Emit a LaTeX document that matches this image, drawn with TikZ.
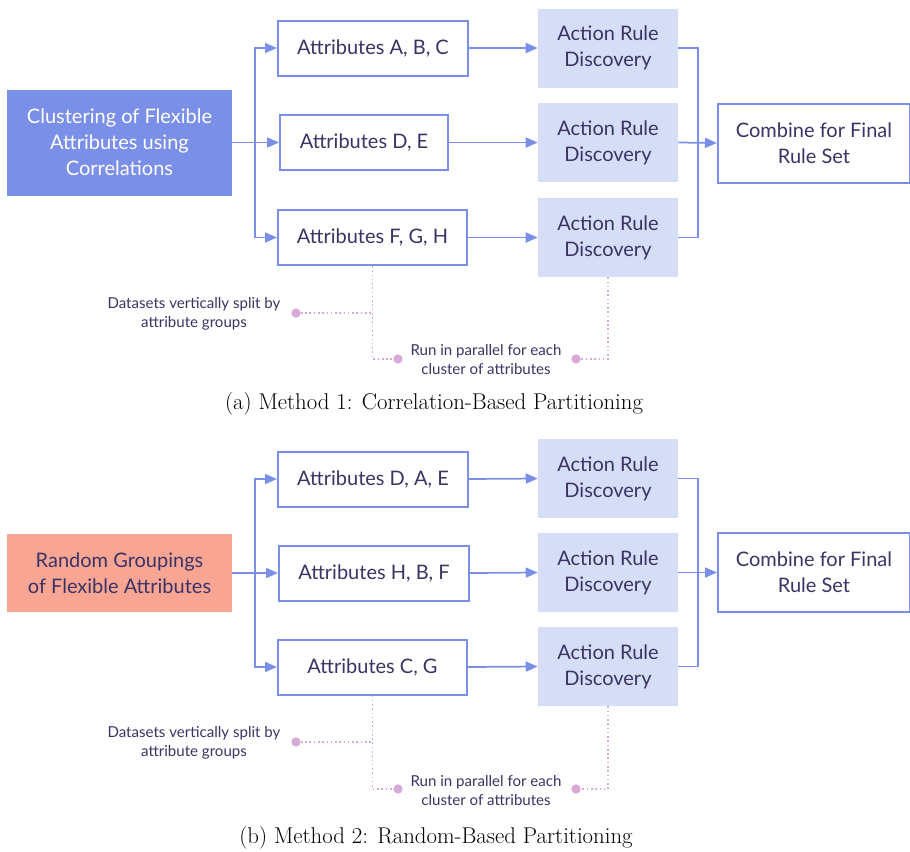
\documentclass[tikz,border=0pt]{standalone}
\usepackage{fontspec}
\usepackage{xcolor}
\usetikzlibrary{arrows.meta}
\newfontfamily\latofont{Lato}

\definecolor{flowblue}{RGB}{122,143,232}
\definecolor{rulefill}{RGB}{214,221,246}
\definecolor{textnavy}{RGB}{58,52,100}
\definecolor{salmon}{RGB}{249,165,148}
\definecolor{notepink}{RGB}{216,170,216}

\begin{document}
\begin{tikzpicture}[x=0.75pt,y=0.75pt,yscale=-1,xscale=1,
  boxtext/.style={font=\latofont\fontsize{15}{19.5}\selectfont, text=textnavy, align=center, inner sep=0pt},
  attbox/.style={boxtext, draw=flowblue, line width=1.5pt, fill=white, minimum height=41.25pt},
  rulebox/.style={boxtext, fill=rulefill, minimum width=105pt, minimum height=59.25pt},
  combbox/.style={boxtext, draw=flowblue, line width=1.5pt, minimum width=144pt, minimum height=59.25pt},
  flow/.style={draw=flowblue, line width=1.3pt},
  flowarrow/.style={flow, -{Triangle[length=9pt,width=7.5pt]}},
  note/.style={draw=notepink, line width=1.2pt, dotted},
  dot/.style={circle, fill=notepink, inner sep=0pt, minimum size=7pt},
  notetext/.style={font=\latofont\fontsize{11.3}{14.25}\selectfont, text=textnavy, align=center, inner sep=0pt},
  captext/.style={font=\fontsize{17.1}{20}\selectfont, inner sep=0pt}]
\useasboundingbox (0,0) rectangle (910,851);

%%% (a) correlation based
% Start Node
\node [boxtext, fill=flowblue, text=white, minimum width=168.75pt, minimum height=79.5pt] (clus) at (119.5,142.5) {Clustering of Flexible\\Attributes using\\Correlations};
% Attribute groups
\node [attbox, minimum width=142.5pt] (attA) at (373,48) {Attributes A, B, C};
\node [attbox, minimum width=126pt] (attD) at (364,142.5) {Attributes D, E};
\node [attbox, minimum width=141.75pt] (attF) at (372.5,237.5) {Attributes F, G, H};
% Action rule boxes
\node [rulebox] (ardA) at (608,48) {Action Rule\\Discovery};
\node [rulebox] (ardD) at (608,142.5) {Action Rule\\Discovery};
\node [rulebox] (ardF) at (608,237.5) {Action Rule\\Discovery};
% Final Node
\node [combbox] (comb) at (814,143) {Combine for Final\\Rule Set};

\coordinate (split) at (255,142.5);
\coordinate (merge) at (698,142.5);
\draw [flowarrow] (clus.east) -- (attD.west);
\draw [flowarrow] (split) |- (attA.west);
\draw [flowarrow] (split) |- (attF.west);
\draw [flowarrow] (attA.east) -- (ardA.west);
\draw [flowarrow] (attD.east) -- (ardD.west);
\draw [flowarrow] (attF.east) -- (ardF.west);
\draw [flow] (ardA.east) -| (merge) |- (ardF.east);
\draw [flowarrow] (ardD.east) -- (comb.west);

% Notes
\node [dot] (dotA) at (296,313) {};
\node [dot] (dotB) at (398,359) {};
\node [dot] (dotC) at (576,359) {};
\draw [note] (attF.south) |- (dotB);
\draw [note] (dotA) -- (dotA -| attF.south);
\draw [note] (ardF.south) |- (dotC);
\node [notetext] (noteA) at (194,313.5) {Datasets vertically split by\\attribute groups};
\node [notetext] (noteB) at (486,360) {Run in parallel for each\\cluster of attributes};

% Text Node
\node [captext] (capA) at (434,404) {(a) Method 1: Correlation-Based Partitioning};

%%% (b) random based
% Start Node
\node [boxtext, fill=salmon, minimum width=168.75pt, minimum height=58.5pt] (rand) at (119.5,573) {Random Groupings\\of Flexible Attributes};
% Attribute groups
\node [attbox, minimum width=142.5pt] (attDAE) at (373,479) {Attributes D, A, E};
\node [attbox, minimum width=142.5pt] (attHBF) at (374,573) {Attributes H, B, F};
\node [attbox, minimum width=141.75pt] (attCG) at (372.5,667) {Attributes C, G};
% Action rule boxes
\node [rulebox] (ardDAE) at (608,478.5) {Action Rule\\Discovery};
\node [rulebox] (ardHBF) at (608,572.5) {Action Rule\\Discovery};
\node [rulebox] (ardCG) at (608,666.5) {Action Rule\\Discovery};
% Final Node
\node [combbox] (combR) at (814,572.5) {Combine for Final\\Rule Set};

\coordinate (splitR) at (255,573);
\coordinate (mergeR) at (698,572.5);
\draw [flowarrow] (rand.east) -- (attHBF.west);
\draw [flowarrow] (splitR) |- (attDAE.west);
\draw [flowarrow] (splitR) |- (attCG.west);
\draw [flowarrow] (attDAE.east) -- (ardDAE.west);
\draw [flowarrow] (attHBF.east) -- (ardHBF.west);
\draw [flowarrow] (attCG.east) -- (ardCG.west);
\draw [flow] (ardDAE.east) -| (mergeR) |- (ardCG.east);
\draw [flowarrow] (ardHBF.east) -- (combR.west);

% Notes
\node [dot] (dotD) at (296,742) {};
\node [dot] (dotE) at (398,789) {};
\node [dot] (dotF) at (576,789) {};
\draw [note] (attCG.south) |- (dotE);
\draw [note] (dotD) -- (dotD -| attCG.south);
\draw [note] (ardCG.south) |- (dotF);
\node [notetext] (noteD) at (194,742.5) {Datasets vertically split by\\attribute groups};
\node [notetext] (noteE) at (486,790) {Run in parallel for each\\cluster of attributes};

% Text Node
\node [captext] (capB) at (436,838) {(b) Method 2: Random-Based Partitioning};

\end{tikzpicture}
\end{document}
